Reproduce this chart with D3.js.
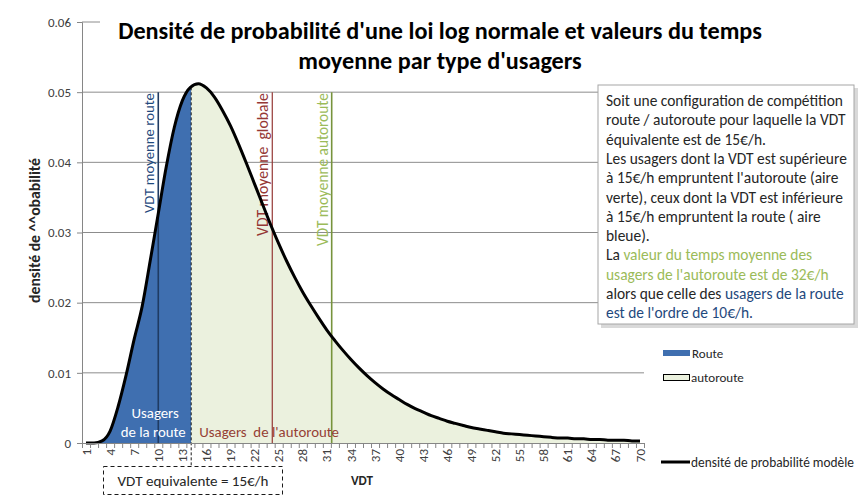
<!DOCTYPE html>
<html>
<head>
<meta charset="utf-8">
<script src="https://cdn.jsdelivr.net/npm/d3@7"></script>
<style>
body { margin: 0; background: #fff; }
svg { font-family: Carlito, Lato, 'Open Sans', sans-serif; }
</style>
</head>
<body>
<svg width="858" height="501"></svg>
<script>
// categories of the x axis (VDT, 1 to 70)
var vdt = d3.range(1, 71);
// density, one value per category
var density = [
  0, 0, 0.0003, 0.0017, 0.0052, 0.0097, 0.0148, 0.0195, 0.0260, 0.0327,
  0.0394, 0.0450, 0.0488, 0.0507, 0.0512, 0.0506, 0.0493, 0.0474, 0.0452, 0.0426,
  0.0398, 0.0369, 0.0340, 0.0311, 0.0284, 0.0259, 0.0236, 0.0215, 0.0196, 0.0178,
  0.0161, 0.0146, 0.0132, 0.0119, 0.0107, 0.0096, 0.0086, 0.0077, 0.0069, 0.0062,
  0.0055, 0.0049, 0.0044, 0.0039, 0.0035, 0.0031, 0.0028, 0.0025, 0.0022, 0.0020,
  0.0018, 0.0016, 0.0014, 0.0013, 0.0012, 0.0011, 0.0010, 0.0009, 0.0008, 0.0007,
  0.0007, 0.0006, 0.0006, 0.0005, 0.0005, 0.0004, 0.0004, 0.0004, 0.0003, 0.0003
];
var xTickLabels = [1, 4, 7, 10, 13, 16, 19, 22, 25, 28, 31, 34, 37, 40, 43, 46, 49, 52, 55, 58, 61, 64, 67, 70];
var yTicks = [0, 0.01, 0.02, 0.03, 0.04, 0.05, 0.06];
var yTickLabels = ['0', '0.01', '0.02', '0.03', '0.04', '0.05', '0.06'];
// split between the two areas, on the category axis
var vdtEquivalente = 14.1;
var meanNames = ['VDT moyenne route', 'VDT moyenne  globale', 'VDT moyenne autoroute'];
var meanValues = [10, 24.2, 31.6];
var meanColors = ['#1f3b63', '#953735', '#77933c'];
var meanTextColors = ['#1f497d', '#953735', '#9bbb59'];
var meanTextLen = [120, 143, 153];

var boxLines = [
  [['Soit une configuration de compétition', '#262626']],
  [['route / autoroute pour laquelle la VDT', '#262626']],
  [['équivalente est de 15€/h.', '#262626']],
  [['Les usagers dont la VDT est supérieure', '#262626']],
  [['à 15€/h empruntent l\'autoroute (aire', '#262626']],
  [['verte), ceux dont la VDT est inférieure', '#262626']],
  [['à 15€/h empruntent la route ( aire', '#262626']],
  [['bleue).', '#262626']],
  [['La ', '#262626'], ['valeur du temps moyenne des', '#9bbb59']],
  [['usagers de l\'autoroute est de 32€/h', '#9bbb59']],
  [['alors que celle des ', '#262626'], ['usagers de la route', '#1f497d']],
  [['est de l\'ordre de 10€/h.', '#1f497d']]
];

var margin = {top: 22, left: 82, right: 214, bottom: 58};
var width = 858, height = 501;
var svg = d3.select('svg');

var xScale = d3.scaleLinear()
  .domain([0.5, 70.5])
  .range([margin.left, width - margin.right]);
var yScale = d3.scaleLinear()
  .domain([0, 0.06])
  .range([height - margin.bottom, margin.top]);

var data = vdt.map((v, i) => ({vdt: v, d: density[i]}));

function fitWidth(sel, w) {
  sel.each(function() {
    var len = this.getComputedTextLength();
    var fs = parseFloat(d3.select(this).style('font-size'));
    d3.select(this).style('font-size', (fs * w / len) + 'px');
  });
}

// gridlines
svg.append('g')
  .selectAll('line')
  .data(yTicks.slice(1))
  .enter().append('line')
  .attr('x1', margin.left)
  .attr('x2', xScale(70.5))
  .attr('y1', d => yScale(d))
  .attr('y2', d => yScale(d))
  .attr('stroke', '#8c8c8c')
  .attr('stroke-width', 1);

// areas
var area = d3.area()
  .x(d => xScale(d.vdt))
  .y0(yScale(0))
  .y1(d => yScale(d.d))
  .curve(d3.curveMonotoneX);
var line = d3.line()
  .x(d => xScale(d.vdt))
  .y(d => yScale(d.d))
  .curve(d3.curveMonotoneX);

var defs = svg.append('defs');
defs.append('clipPath').attr('id', 'clipRoute')
  .append('rect')
  .attr('x', xScale(0.5)).attr('y', 0)
  .attr('width', xScale(vdtEquivalente) - xScale(0.5)).attr('height', height);
defs.append('clipPath').attr('id', 'clipAuto')
  .append('rect')
  .attr('x', xScale(vdtEquivalente)).attr('y', 0)
  .attr('width', xScale(70.5) - xScale(vdtEquivalente)).attr('height', height);

svg.append('path')
  .attr('d', area(data))
  .attr('fill', '#3f6fb0')
  .attr('clip-path', 'url(#clipRoute)');
svg.append('path')
  .attr('d', area(data))
  .attr('fill', '#ebf1de')
  .attr('clip-path', 'url(#clipAuto)');

// mean lines
var meanG = svg.append('g');
meanValues.forEach((v, i) => {
  meanG.append('line')
    .attr('x1', xScale(v)).attr('x2', xScale(v))
    .attr('y1', yScale(0.05)).attr('y2', yScale(0))
    .attr('stroke', meanColors[i])
    .attr('stroke-width', i == 1 ? 1.2 : 1.6);
  var t = meanG.append('text')
    .attr('transform', `translate(${xScale(v) - 4}, ${yScale(0.05) + 1}) rotate(-90)`)
    .attr('text-anchor', 'end')
    .attr('fill', meanTextColors[i])
    .style('font-size', '14px')
    .style('white-space', 'pre')
    .text(meanNames[i]);
  fitWidth(t, meanTextLen[i]);
});

// dashed split line, from curve down to the box
var dAtSplit = d3.max(data, d => d.d) * 0.99;
var xSplit = xScale(vdtEquivalente);
svg.append('line')
  .attr('x1', xSplit).attr('x2', xSplit)
  .attr('y1', yScale(dAtSplit)).attr('y2', 466)
  .attr('stroke', '#1a1a1a')
  .attr('stroke-width', 1)
  .attr('stroke-dasharray', '3,2');

// curve
svg.append('path')
  .attr('d', line(data))
  .attr('fill', 'none')
  .attr('stroke', '#000')
  .attr('stroke-width', 3);

// area labels
var u1 = svg.append('text')
  .attr('x', xSplit - 36).attr('y', 418)
  .attr('text-anchor', 'middle')
  .attr('fill', '#fff')
  .style('font-size', '14px')
  .text('Usagers');
var u2 = svg.append('text')
  .attr('x', xSplit - 38).attr('y', 437)
  .attr('text-anchor', 'middle')
  .attr('fill', '#fff')
  .style('font-size', '14px')
  .text('de la route');
fitWidth(u2, 65);
u1.style('font-size', u2.style('font-size'));
var u3 = svg.append('text')
  .attr('x', xSplit + 8).attr('y', 437)
  .attr('fill', '#953f35')
  .style('font-size', '14px')
  .style('white-space', 'pre')
  .text('Usagers  de l\'autoroute');
fitWidth(u3, 140);

// x axis
var xAxisMinor = d3.axisBottom(xScale)
  .tickValues(d3.range(0.5, 71, 1))
  .tickSize(5)
  .tickFormat('');
var gx = svg.append('g')
  .attr('transform', `translate(0, ${yScale(0)})`)
  .call(xAxisMinor);
gx.select('.domain').attr('stroke', '#868686');
gx.selectAll('.tick line').attr('stroke', '#868686');

svg.append('g')
  .selectAll('text')
  .data(xTickLabels)
  .enter().append('text')
  .attr('transform', d => `translate(${xScale(d)}, ${yScale(0) + 6}) rotate(-90)`)
  .attr('text-anchor', 'end')
  .attr('dy', '0.35em')
  .attr('fill', '#404040')
  .style('font-size', '13px')
  .text(d => d);

// y axis
var yAxis = d3.axisLeft(yScale)
  .tickValues(yTicks)
  .tickSize(5)
  .tickPadding(6)
  .tickFormat((d, i) => yTickLabels[i]);
var gy = svg.append('g')
  .attr('transform', `translate(${margin.left}, 0)`)
  .call(yAxis);
gy.select('.domain').attr('stroke', '#868686');
gy.selectAll('.tick line').attr('stroke', '#868686');
gy.selectAll('.tick text')
  .attr('fill', '#404040')
  .style('font-size', '13px')
  .style('font-family', 'Carlito, Lato, sans-serif');

var yTitle = svg.append('text')
  .attr('transform', `translate(40, ${(yScale(0) + yScale(0.06)) / 2 - 2}) rotate(-90)`)
  .attr('text-anchor', 'middle')
  .attr('font-weight', 'bold')
  .attr('fill', '#262626')
  .style('font-size', '12.5px')
  .text('densité de ^^obabilité');
fitWidth(yTitle, 145);

svg.append('text')
  .attr('x', 362).attr('y', 485)
  .attr('text-anchor', 'middle')
  .attr('font-weight', 'bold')
  .attr('fill', '#262626')
  .style('font-size', '13px')
  .text('VDT');

// title with white background
svg.append('rect')
  .attr('x', 100).attr('y', 12).attr('width', 758).attr('height', 68)
  .attr('fill', '#fff');
var t1 = svg.append('text')
  .attr('x', 440).attr('y', 39)
  .attr('text-anchor', 'middle')
  .attr('font-weight', 'bold')
  .attr('fill', '#000')
  .style('font-size', '20px')
  .text('Densité de probabilité d\'une loi log normale et valeurs du temps');
fitWidth(t1, 644);
svg.append('text')
  .attr('x', 440).attr('y', 69)
  .attr('text-anchor', 'middle')
  .attr('font-weight', 'bold')
  .attr('fill', '#000')
  .style('font-size', t1.style('font-size'))
  .text('moyenne par type d\'usagers');

// text box
svg.append('rect')
  .attr('x', 601).attr('y', 88).attr('width', 257).attr('height', 240)
  .attr('fill', '#d9d9d9');
svg.append('rect')
  .attr('x', 598).attr('y', 85).attr('width', 256).attr('height', 239)
  .attr('fill', '#fff')
  .attr('stroke', '#a6a6a6')
  .attr('stroke-width', 1);
var boxText = svg.append('g');
boxLines.forEach((segs, i) => {
  var t = boxText.append('text')
    .attr('x', 606).attr('y', 106 + i * 19.3)
    .style('font-size', '12.5px')
    .style('white-space', 'pre');
  segs.forEach(s => {
    t.append('tspan').attr('fill', s[1]).text(s[0]);
  });
});
var first = boxText.select('text').node();
var k = 237 / first.getComputedTextLength();
boxText.selectAll('text').style('font-size', (12.5 * k) + 'px');

// legend
svg.append('rect')
  .attr('x', 663).attr('y', 350).attr('width', 27).attr('height', 6)
  .attr('fill', '#3f6fb0');
svg.append('text')
  .attr('x', 692).attr('y', 358)
  .attr('fill', '#262626')
  .style('font-size', '13px')
  .text('Route');
svg.append('rect')
  .attr('x', 663.5).attr('y', 374.5).attr('width', 26).attr('height', 6)
  .attr('fill', '#ebf1de')
  .attr('stroke', '#000')
  .attr('stroke-width', 1);
svg.append('text')
  .attr('x', 691).attr('y', 382)
  .attr('fill', '#262626')
  .style('font-size', '13px')
  .text('autoroute');
svg.append('line')
  .attr('x1', 661).attr('x2', 690)
  .attr('y1', 462).attr('y2', 462)
  .attr('stroke', '#000')
  .attr('stroke-width', 3);
var legLine = svg.append('text')
  .attr('x', 691).attr('y', 466.5)
  .attr('fill', '#262626')
  .style('font-size', '13px')
  .text('densité de probabilité modèle');
fitWidth(legLine, 163);

// dashed box
svg.append('rect')
  .attr('x', 103.5).attr('y', 466.5).attr('width', 179).attr('height', 28)
  .attr('fill', 'none')
  .attr('stroke', '#1a1a1a')
  .attr('stroke-dasharray', '4,3');
var boxLabel = svg.append('text')
  .attr('x', 193).attr('y', 486)
  .attr('text-anchor', 'middle')
  .attr('fill', '#262626')
  .style('font-size', '14px')
  .text('VDT equivalente = 15€/h');
fitWidth(boxLabel, 151);
</script>
</body>
</html>
